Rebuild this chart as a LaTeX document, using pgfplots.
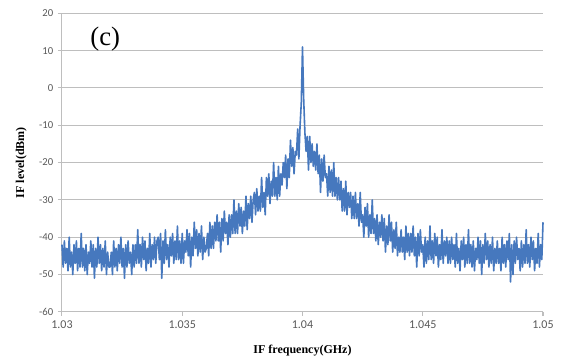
\documentclass[border=0pt]{standalone}
\usepackage{pgfplots}
\pgfplotsset{compat=1.18}
\usepackage{fontspec}
\setmainfont{Liberation Serif}
\newfontfamily\tickfont{Carlito}
\definecolor{trace}{RGB}{70,120,190}
\definecolor{gridc}{RGB}{190,190,190}
\definecolor{tickc}{RGB}{89,89,89}
\begin{document}
\begin{tikzpicture}
\begin{axis}[
  scale only axis, width=361pt, height=224pt,
  xmin=1.03, xmax=1.05, ymin=-60, ymax=20,
  xtick={1.03,1.035,1.04,1.045,1.05},
  xticklabels={1.03,1.035,1.04,1.045,1.05},
  ytick={-60,-50,-40,-30,-20,-10,0,10,20},
  axis x line*=bottom, axis y line*=left,
  axis line style={gridc, line width=0.8pt, -},
  ymajorgrids, major grid style={gridc, line width=0.8pt},
  tick align=outside, major tick length=3pt,
  tick style={gridc, line width=0.8pt},
  x tick label style={font=\tickfont\fontsize{9}{10}\selectfont, text=tickc},
  y tick label style={font=\tickfont\fontsize{8}{9}\selectfont, text=tickc},
  /pgf/number format/assume math mode=true,
  xlabel={\textbf{IF frequency(GHz)}},
  ylabel={\textbf{IF level(dBm)}},
  label style={font=\fontsize{9}{10}\selectfont},
  xlabel style={yshift=-6pt},
  ylabel style={yshift=2.5pt},
  clip=false,
]
\addplot[trace, line width=1.2pt, line join=round] coordinates {
(1.03000,-42)(1.03005,-48)(1.03010,-41)(1.03015,-47)(1.03020,-43)(1.03025,-49)(1.03030,-40)(1.03035,-48)(1.03040,-44)(1.03045,-50)
(1.03050,-42)(1.03055,-47)(1.03060,-41)(1.03065,-49)(1.03070,-43)(1.03075,-48)(1.03080,-39)(1.03085,-48)(1.03090,-43)(1.03095,-49)
(1.03100,-42)(1.03105,-50)(1.03110,-44)(1.03115,-47)(1.03120,-41)(1.03125,-48)(1.03130,-42)(1.03135,-51)(1.03140,-43)(1.03145,-48)
(1.03150,-40)(1.03155,-47)(1.03160,-42)(1.03165,-49)(1.03170,-43)(1.03175,-48)(1.03180,-41)(1.03185,-50)(1.03190,-44)(1.03195,-48)
(1.03200,-48)(1.03205,-44)(1.03210,-50)(1.03215,-41)(1.03220,-48)(1.03225,-43)(1.03230,-49)(1.03235,-42)(1.03240,-47)(1.03245,-40)
(1.03250,-48)(1.03255,-43)(1.03260,-51)(1.03265,-42)(1.03270,-48)(1.03275,-41)(1.03280,-47)(1.03285,-44)(1.03290,-50)(1.03295,-42)
(1.03300,-48)(1.03305,-42)(1.03310,-47)(1.03315,-38)(1.03320,-47)(1.03325,-42)(1.03330,-48)(1.03335,-40)(1.03340,-46)(1.03345,-41)
(1.03350,-49)(1.03355,-43)(1.03360,-47)(1.03365,-39)(1.03370,-48)(1.03375,-42)(1.03380,-46)(1.03385,-40)(1.03390,-47)(1.03395,-41)
(1.03400,-40)(1.03405,-46)(1.03410,-39)(1.03415,-51)(1.03420,-41)(1.03425,-47)(1.03430,-38)(1.03435,-46)(1.03440,-42)(1.03445,-48)
(1.03450,-40)(1.03455,-45)(1.03460,-39)(1.03465,-47)(1.03470,-41)(1.03475,-46)(1.03480,-37)(1.03485,-46)(1.03490,-41)(1.03495,-47)
(1.03500,-39)(1.03505,-47)(1.03510,-41)(1.03515,-44)(1.03520,-38)(1.03525,-45)(1.03530,-39)(1.03535,-48)(1.03540,-40)(1.03545,-45)
(1.03550,-36)(1.03555,-43)(1.03560,-38)(1.03565,-45)(1.03570,-39)(1.03575,-44)(1.03580,-37)(1.03585,-46)(1.03590,-40)(1.03595,-44)
(1.03600,-43)(1.03605,-39)(1.03610,-45)(1.03615,-36)(1.03620,-43)(1.03625,-37)(1.03630,-43)(1.03635,-36)(1.03640,-41)(1.03645,-34)
(1.03650,-41)(1.03655,-36)(1.03660,-44)(1.03665,-35)(1.03670,-41)(1.03675,-33)(1.03680,-39)(1.03685,-36)(1.03690,-42)(1.03695,-34)
(1.03700,-40)(1.03705,-34)(1.03710,-39)(1.03715,-30)(1.03720,-39)(1.03725,-33)(1.03730,-39)(1.03735,-31)(1.03740,-37)(1.03745,-32)
(1.03750,-39)(1.03755,-33)(1.03760,-37)(1.03765,-29)(1.03770,-38)(1.03775,-31)(1.03780,-35)(1.03785,-29)(1.03790,-36)(1.03795,-30)
(1.03800,-28)(1.03805,-34)(1.03810,-27)(1.03815,-33)(1.03820,-29)(1.03825,-33)(1.03830,-24)(1.03835,-32)(1.03840,-28)(1.03845,-34)
(1.03850,-24)(1.03855,-29)(1.03860,-23)(1.03865,-31)(1.03870,-25)(1.03875,-29)(1.03880,-20)(1.03885,-29)(1.03890,-24)(1.03895,-30)
(1.03900,-21)(1.03905,-29)(1.03910,-23)(1.03915,-26)(1.03920,-20)(1.03925,-24)(1.03930,-18)(1.03935,-27)(1.03940,-19)(1.03945,-24)
(1.03950,-14)(1.03955,-21)(1.03960,-16)(1.03965,-23)(1.03970,-17)(1.03975,-18)(1.03980,-11)(1.03985,-19)(1.03990,-10)(1.03995,-4)
(1.04000,11)(1.04005,-3)(1.04010,-12)(1.04015,-17)(1.04020,-13)(1.04025,-22)(1.04030,-13)(1.04035,-20)(1.04040,-15)(1.04045,-21)
(1.04050,-17)(1.04055,-22)(1.04060,-15)(1.04065,-23)(1.04070,-18)(1.04075,-28)(1.04080,-19)(1.04085,-25)(1.04090,-18)(1.04095,-24)
(1.04100,-23)(1.04105,-29)(1.04110,-21)(1.04115,-28)(1.04120,-22)(1.04125,-29)(1.04130,-20)(1.04135,-29)(1.04140,-24)(1.04145,-30)
(1.04150,-24)(1.04155,-30)(1.04160,-25)(1.04165,-33)(1.04170,-27)(1.04175,-33)(1.04180,-25)(1.04185,-34)(1.04190,-28)(1.04195,-32)
(1.04200,-28)(1.04205,-35)(1.04210,-29)(1.04215,-35)(1.04220,-28)(1.04225,-35)(1.04230,-31)(1.04235,-37)(1.04240,-28)(1.04245,-36)
(1.04250,-34)(1.04255,-40)(1.04260,-32)(1.04265,-37)(1.04270,-31)(1.04275,-40)(1.04280,-34)(1.04285,-39)(1.04290,-30)(1.04295,-39)
(1.04300,-35)(1.04305,-41)(1.04310,-34)(1.04315,-42)(1.04320,-36)(1.04325,-40)(1.04330,-34)(1.04335,-41)(1.04340,-35)(1.04345,-44)
(1.04350,-37)(1.04355,-42)(1.04360,-34)(1.04365,-41)(1.04370,-36)(1.04375,-44)(1.04380,-38)(1.04385,-43)(1.04390,-36)(1.04395,-45)
(1.04400,-40)(1.04405,-44)(1.04410,-38)(1.04415,-44)(1.04420,-40)(1.04425,-46)(1.04430,-37)(1.04435,-44)(1.04440,-39)(1.04445,-45)
(1.04450,-39)(1.04455,-44)(1.04460,-37)(1.04465,-45)(1.04470,-40)(1.04475,-48)(1.04480,-39)(1.04485,-45)(1.04490,-38)(1.04495,-44)
(1.04500,-42)(1.04505,-48)(1.04510,-40)(1.04515,-47)(1.04520,-41)(1.04525,-46)(1.04530,-37)(1.04535,-46)(1.04540,-41)(1.04545,-47)
(1.04550,-39)(1.04555,-45)(1.04560,-40)(1.04565,-48)(1.04570,-42)(1.04575,-46)(1.04580,-38)(1.04585,-47)(1.04590,-41)(1.04595,-45)
(1.04600,-40)(1.04605,-47)(1.04610,-41)(1.04615,-47)(1.04620,-40)(1.04625,-46)(1.04630,-42)(1.04635,-48)(1.04640,-39)(1.04645,-47)
(1.04650,-43)(1.04655,-49)(1.04660,-41)(1.04665,-46)(1.04670,-40)(1.04675,-48)(1.04680,-42)(1.04685,-47)(1.04690,-38)(1.04695,-47)
(1.04700,-42)(1.04705,-48)(1.04710,-41)(1.04715,-49)(1.04720,-43)(1.04725,-46)(1.04730,-40)(1.04735,-47)(1.04740,-41)(1.04745,-50)
(1.04750,-42)(1.04755,-47)(1.04760,-39)(1.04765,-46)(1.04770,-41)(1.04775,-48)(1.04780,-42)(1.04785,-47)(1.04790,-40)(1.04795,-49)
(1.04800,-43)(1.04805,-47)(1.04810,-41)(1.04815,-47)(1.04820,-43)(1.04825,-49)(1.04830,-40)(1.04835,-47)(1.04840,-42)(1.04845,-48)
(1.04850,-41)(1.04855,-46)(1.04860,-39)(1.04865,-52)(1.04870,-42)(1.04875,-50)(1.04880,-41)(1.04885,-47)(1.04890,-40)(1.04895,-46)
(1.04900,-43)(1.04905,-49)(1.04910,-41)(1.04915,-48)(1.04920,-42)(1.04925,-47)(1.04930,-38)(1.04935,-47)(1.04940,-42)(1.04945,-48)
(1.04950,-40)(1.04955,-46)(1.04960,-41)(1.04965,-49)(1.04970,-43)(1.04975,-47)(1.04980,-39)(1.04985,-48)(1.04990,-42)(1.04995,-46)
(1.05000,-36)
};
\node[font=\fontsize{20}{22}\selectfont] at (axis cs:1.0318,13) {(c)};
\end{axis}
\pgfresetboundingbox
\path (current axis.north east) ++(24pt,10pt) coordinate (ne);
\path (current axis.south west) ++(-46.5pt,-34.5pt) rectangle (ne);
\end{tikzpicture}
\end{document}
